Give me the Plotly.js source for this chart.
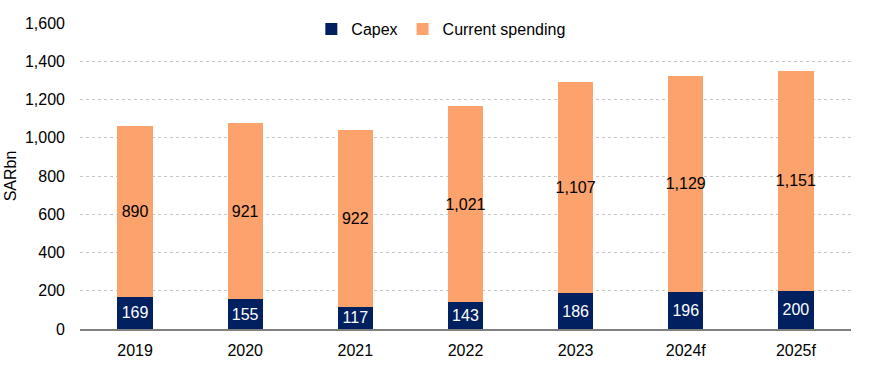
<!DOCTYPE html>
<html>
<head>
<meta charset="utf-8">
<script src="https://cdn.plot.ly/plotly-3.0.1.min.js"></script>
<style>html,body{margin:0;padding:0;background:#fff;}#chart{width:881px;height:374px;}</style>
</head>
<body>
<div id="chart"></div>
<script>
const categories = ["2019", "2020", "2021", "2022", "2023", "2024f", "2025f"];
const capex = [169, 155, 117, 143, 186, 196, 200];
const currentSpending = [890, 921, 922, 1021, 1107, 1129, 1151];
const yTicks = [0, 200, 400, 600, 800, 1000, 1200, 1400, 1600];

const font = "Liberation Sans, Arial, sans-serif";

const traces = [
  {
    type: "bar", name: "Capex", x: categories, y: capex,
    marker: {color: "#002060"},
    texttemplate: "%{y:,.0f}", textposition: "inside", insidetextanchor: "middle",
    textangle: 0, constraintext: "none",
    textfont: {color: "#ffffff", size: 16, family: font},
    hoverinfo: "skip"
  },
  {
    type: "bar", name: "Current spending", x: categories, y: currentSpending,
    marker: {color: "#FBA26D"},
    texttemplate: "%{y:,.0f}", textposition: "inside", insidetextanchor: "middle",
    textangle: 0, constraintext: "none",
    textfont: {color: "#000000", size: 16, family: font},
    hoverinfo: "skip"
  }
];

const layout = {
  width: 881, height: 374,
  margin: {l: 80, r: 30, t: 21, b: 45},
  barmode: "stack",
  bargap: 0.68,
  paper_bgcolor: "#ffffff", plot_bgcolor: "#ffffff",
  font: {family: font, size: 16, color: "#000000"},
  showlegend: true,
  legend: {
    orientation: "h", x: 0.468, xanchor: "center", y: 0.98, yanchor: "middle",
    font: {size: 16, family: font, color: "#000"}, bgcolor: "rgba(255,255,255,0)",
    traceorder: "normal", itemwidth: 30
  },
  xaxis: {
    type: "category", showgrid: false, showline: true, linecolor: "#808080", linewidth: 2,
    ticks: "", ticklabelstandoff: 6, tickfont: {size: 16, color: "#000"}, zeroline: false
  },
  yaxis: {
    range: [0, 1600], tickvals: yTicks, tickformat: ",d",
    showgrid: true, gridcolor: "#C6C6C6", griddash: "dot", gridwidth: 1,
    zeroline: false, showline: false, ticks: "", ticklabelstandoff: 14,
    tickfont: {size: 16, color: "#000"},
    title: {text: "SARbn", font: {size: 16, color: "#000"}, standoff: 4}
  }
};

Plotly.newPlot("chart", traces, layout, {staticPlot: true, displayModeBar: false});
</script>
</body>
</html>
